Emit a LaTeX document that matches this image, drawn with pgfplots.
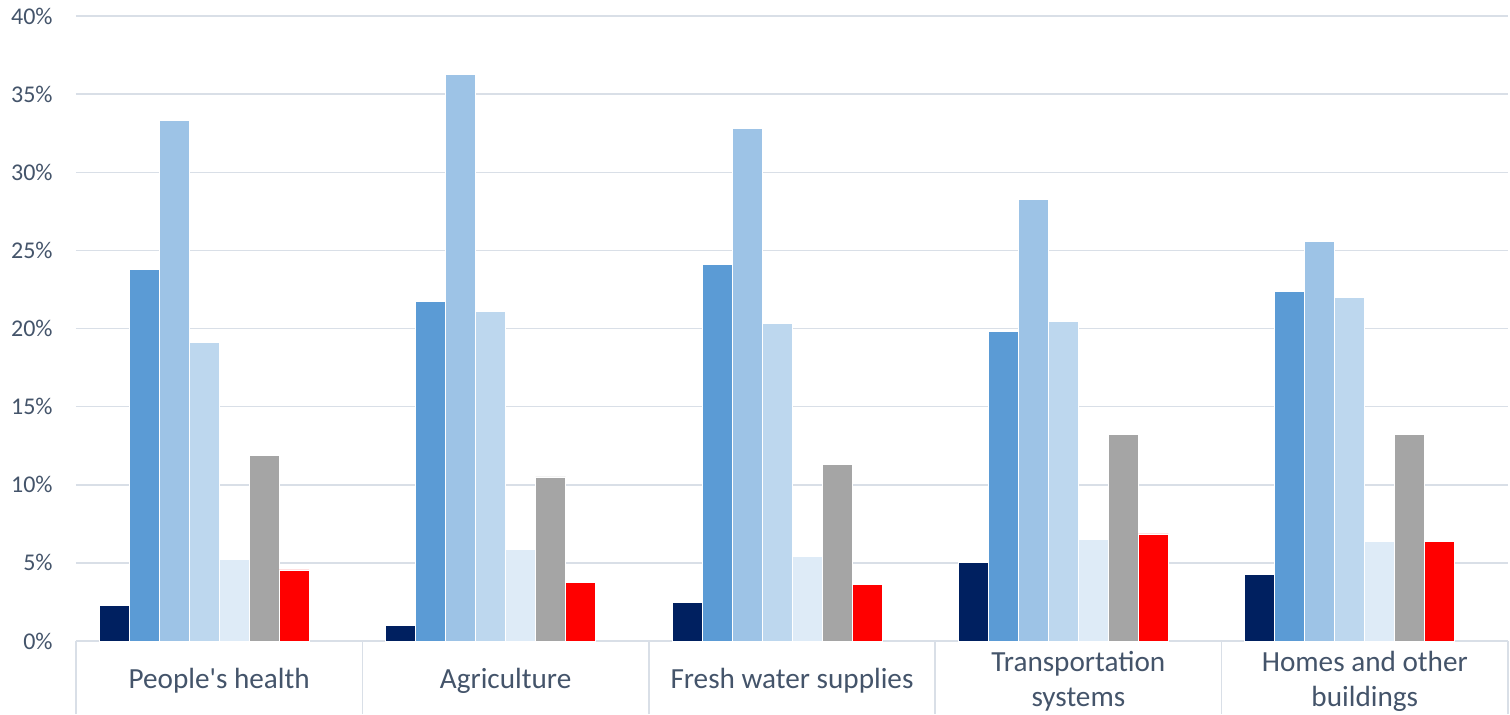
\documentclass[border=0pt]{standalone}
\usepackage{fontspec}
\setmainfont{Carlito}[Ligatures=TeXOff]
\usepackage{pgfplots}
\usepackage{pgfplotstable}
\pgfplotsset{compat=1.18}
\definecolor{txt}{RGB}{68,84,106}
\definecolor{gridc}{RGB}{217,223,231}
\definecolor{c1}{RGB}{0,32,96}
\definecolor{c2}{RGB}{91,155,213}
\definecolor{c3}{RGB}{157,195,230}
\definecolor{c4}{RGB}{189,215,238}
\definecolor{c5}{RGB}{222,235,247}
\definecolor{c6}{RGB}{165,165,165}
\definecolor{c7}{RGB}{255,0,0}
\pgfplotstableread{
x s1 s2 s3 s4 s5 s6 s7
0 2.27 23.8 33.3 19.1 5.2 11.9 4.55
1 0.97 21.75 36.25 21.1 5.85 10.5 3.75
2 2.46 24.1 32.8 20.35 5.4 11.3 3.6
3 5.05 19.8 28.25 20.45 6.5 13.2 6.85
4 4.25 22.35 25.6 22.0 6.35 13.2 6.35
}\datatable
\begin{document}
\begin{tikzpicture}
\useasboundingbox (-38pt,-36.5pt) rectangle (717pt,320.5pt);
\begin{axis}[
  at={(0,0)}, anchor=south west,
  scale only axis,
  width=716pt, height=312.5pt,
  xmin=-0.5, xmax=4.5, ymin=0, ymax=40,
  axis x line*=bottom, axis y line*=left,
  axis line style={-},
  x axis line style={draw=gridc, line width=0.75pt},
  y axis line style={draw=none},
  ymajorgrids, grid style={draw=gridc, line width=0.75pt},
  major tick length=0pt,
  ytick={0,5,...,40},
  yticklabels={0\%,5\%,10\%,15\%,20\%,25\%,30\%,35\%,40\%},
  ytick style={draw=none},
  yticklabel style={font=\fontsize{12}{14}\selectfont, text=txt, anchor=east, inner sep=0pt, xshift=-11.5pt},
  xtick={0,1,2,3,4},
  xticklabels={People's health, Agriculture, Fresh water supplies, Transportation\\systems, Homes and other\\buildings},
  xticklabel style={font=\fontsize{14.6}{17.5}\selectfont, text=txt, anchor=center, align=center, yshift=-20pt},
  extra x ticks={-0.5,0.5,1.5,2.5,3.5,4.5},
  extra x tick labels={},
  extra x tick style={major tick length=36.5pt, tick align=outside, tick style={draw=gridc, line width=0.75pt}},
  bar width=15pt,
  every axis plot/.append style={ybar, draw=white, line width=0.4pt},
]
\addplot[fill=c1, bar shift=-52.5pt] table[x=x,y=s1]{\datatable};
\addplot[fill=c2, bar shift=-37.5pt] table[x=x,y=s2]{\datatable};
\addplot[fill=c3, bar shift=-22.5pt] table[x=x,y=s3]{\datatable};
\addplot[fill=c4, bar shift=-7.5pt] table[x=x,y=s4]{\datatable};
\addplot[fill=c5, bar shift=7.5pt] table[x=x,y=s5]{\datatable};
\addplot[fill=c6, bar shift=22.5pt] table[x=x,y=s6]{\datatable};
\addplot[fill=c7, bar shift=37.5pt] table[x=x,y=s7]{\datatable};
\end{axis}
\end{tikzpicture}
\end{document}
